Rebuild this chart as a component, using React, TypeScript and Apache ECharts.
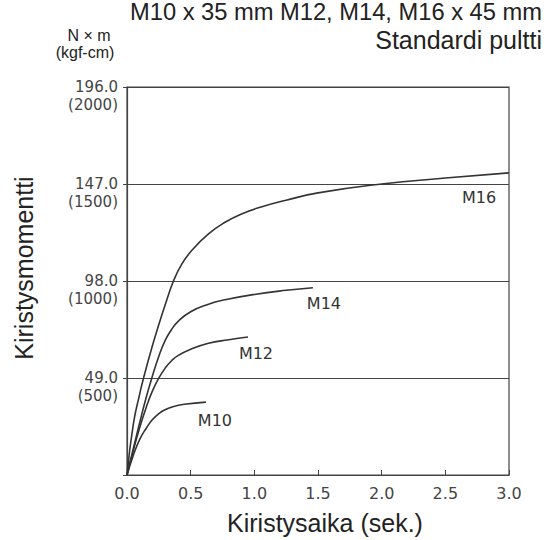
import React, { useEffect, useRef } from "react";
import * as echarts from "echarts";

// Kiristysaika (s) ja kiristysmomentti (N·m) luettuna kuvasta
const m16Time = [0, 0.05, 0.1, 0.13, 0.2, 0.25, 0.3, 0.365, 0.43, 0.508, 0.64, 0.77, 0.9, 1.06, 1.25, 1.5, 2.0, 2.5, 3.0];
const m16Torque = [0, 25.8, 41, 49, 65.4, 76, 86, 98, 106.5, 113.4, 121.8, 127.7, 131.9, 135.5, 138.8, 142.5, 147, 150, 152.6];

const m14Time = [0, 0.05, 0.1, 0.15, 0.195, 0.25, 0.3, 0.35, 0.4, 0.5, 0.64, 0.77, 1.0, 1.25, 1.46];
const m14Torque = [0, 13.5, 26.5, 39, 49, 60, 68, 73.5, 77.5, 82.5, 86.3, 88.5, 91.2, 93.3, 94.6];

const m12Time = [0, 0.05, 0.1, 0.15, 0.2, 0.25, 0.3, 0.35, 0.4, 0.5, 0.64, 0.8, 0.95];
const m12Torque = [0, 12.5, 24, 34, 42.5, 49, 54, 57.7, 60.3, 63.5, 66.6, 68.3, 69.7];

const m10Time = [0, 0.05, 0.1, 0.15, 0.2, 0.25, 0.3, 0.36, 0.45, 0.62];
const m10Torque = [0, 10, 18, 23.5, 28, 31, 33, 34.5, 35.7, 36.8];

const seriesNames = ["M16", "M14", "M12", "M10"];
const yTickLabels = ["49.0", "98.0", "147.0", "196.0"];
const kgfLabels = ["(500)", "(1000)", "(1500)", "(2000)"];
const xTickLabels = ["0.0", "0.5", "1.0", "1.5", "2.0", "2.5", "3.0"];

const labelOffsets: number[][] = [
  [-30, 25],
  [11, 16],
  [8, 16],
  [9, 18],
];

const INK = "#333";
const LABEL_FONT = "DejaVu Sans";
const TITLE_FONT = "Liberation Sans";

const zip = (t: number[], v: number[]) => t.map((x, i) => [x, v[i]]);

const tickIndex = (v: number) => Math.round(v / 49) - 1;

const App: React.FC = () => {
  const chartRef = useRef<HTMLDivElement>(null);

  useEffect(() => {
    if (!chartRef.current) return;
    const chart = echarts.init(chartRef.current, undefined, { renderer: "svg" });

    const curves = [
      zip(m16Time, m16Torque),
      zip(m14Time, m14Torque),
      zip(m12Time, m12Torque),
      zip(m10Time, m10Torque),
    ];

    const titleStyle = {
      fontFamily: TITLE_FONT,
      fontSize: 25,
      fontWeight: "normal",
      color: "#222",
    };

    const yCommon = {
      type: "value",
      min: 0,
      max: 196,
      interval: 49,
      position: "left",
    };

    chart.setOption({
      animation: false,
      backgroundColor: "#fff",
      title: [
        {
          text: "M10 x 35 mm M12, M14, M16 x 45 mm",
          right: 4,
          top: 0,
          padding: 0,
          textStyle: { ...titleStyle, fontSize: 23.7 },
        },
        {
          text: "Standardi pultti",
          right: 4,
          top: 27,
          padding: 0,
          textStyle: titleStyle,
        },
        {
          text: "N × m",
          left: 89,
          top: 27,
          padding: 0,
          textAlign: "center",
          textStyle: { ...titleStyle, fontSize: 16, lineHeight: 16 },
        },
        {
          text: "(kgf-cm)",
          left: 85,
          top: 44,
          padding: 0,
          textAlign: "center",
          textStyle: { ...titleStyle, fontSize: 16, lineHeight: 16 },
        },
      ],
      grid: {
        left: 127,
        right: 37,
        top: 87,
        bottom: 65,
        show: true,
        borderColor: "#444",
        borderWidth: 1.2,
      },
      xAxis: {
        type: "value",
        min: 0,
        max: 3,
        interval: 0.5,
        name: "Kiristysaika (sek.)",
        nameLocation: "middle",
        nameGap: 35,
        nameTextStyle: {
          ...titleStyle,
          padding: [0, 0, 0, 14],
        },
        axisLine: { show: true, lineStyle: { color: "#444", width: 1.2 } },
        axisTick: { show: true, inside: true, length: 5, lineStyle: { color: "#444" } },
        splitLine: { show: false },
        axisLabel: {
          margin: 10,
          fontFamily: LABEL_FONT,
          fontSize: 16,
          color: "#444",
          formatter: (v: number) => xTickLabels[Math.round(v / 0.5)] ?? "",
        },
      },
      yAxis: [
        {
          ...yCommon,
          name: "Kiristysmomentti",
          nameLocation: "middle",
          nameGap: 91,
          nameTextStyle: {
            ...titleStyle,
            padding: [0, 0, 0, 26],
          },
          axisLine: { show: true, lineStyle: { color: "#444", width: 1.2 } },
          axisTick: { show: true, length: 4, lineStyle: { color: "#444" } },
          splitLine: { show: true, lineStyle: { color: "#444", width: 1.2 } },
          axisLabel: {
            margin: 9,
            fontFamily: LABEL_FONT,
            fontSize: 15,
            lineHeight: 15,
            color: "#444",
            verticalAlign: "middle",
            padding: [1, 0, 0, 0],
            formatter: (v: number) => yTickLabels[tickIndex(v)] ?? "",
          },
        },
        {
          ...yCommon,
          axisLine: { show: false },
          axisTick: { show: false },
          splitLine: { show: false },
          axisLabel: {
            margin: 9,
            fontFamily: LABEL_FONT,
            fontSize: 15,
            lineHeight: 15,
            color: "#444",
            verticalAlign: "top",
            padding: [10, 0, 0, 0],
            formatter: (v: number) => kgfLabels[tickIndex(v)] ?? "",
          },
        },
      ],
      series: curves.map((data, i) => ({
        name: seriesNames[i],
        type: "line",
        yAxisIndex: 0,
        data,
        smooth: 0.5,
        showSymbol: false,
        lineStyle: { color: INK, width: 1.6 },
        markPoint: {
          symbol: "circle",
          symbolSize: 0,
          data: [
            {
              coord: data[data.length - 1],
              label: {
                show: true,
                position: "inside",
                formatter: seriesNames[i],
                offset: labelOffsets[i],
                fontFamily: LABEL_FONT,
                fontSize: 16,
                color: "#333",
              },
            },
          ],
        },
      })),
    });

    return () => {
      chart.dispose();
    };
  }, []);

  return (
    <div
      ref={chartRef}
      style={{ position: "absolute", left: 0, top: 0, width: 546, height: 540 }}
    />
  );
};

export default App;
